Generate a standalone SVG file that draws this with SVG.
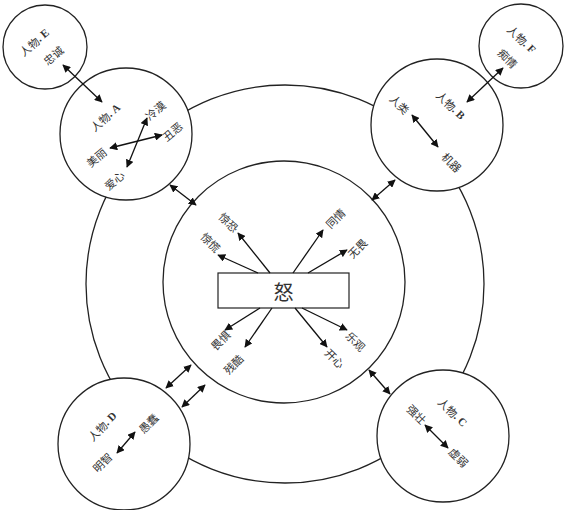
<svg xmlns="http://www.w3.org/2000/svg" width="566" height="510" viewBox="0 0 566 510">
<defs>
<style>
.c{fill:#fff;stroke:#222;stroke-width:1.3}
.r{fill:none;stroke:#222;stroke-width:1.3}
.l{stroke:#111;stroke-width:1.3;fill:none}
.d{marker-start:url(#ah);marker-end:url(#ah)}
.s{marker-end:url(#ah)}
text{font-family:"Noto Sans CJK SC","Liberation Serif",serif;font-size:11px;fill:#333;text-anchor:middle;dominant-baseline:central}
.b{font-family:"Liberation Serif","Noto Sans CJK SC",serif;font-weight:bold}
</style>
<marker id="ah" viewBox="0 0 10 10" refX="9" refY="5" markerWidth="8" markerHeight="8" markerUnits="userSpaceOnUse" orient="auto-start-reverse">
<path d="M0,0 L10,5 L0,10 z" fill="#111"/>
</marker>
</defs>
<rect width="566" height="510" fill="#fff"/>
<g id="outer"><circle class="r" cx="285" cy="284" r="199"/></g>
<g id="inner"><circle class="c" cx="284" cy="282" r="121"/></g>
<g id="center">
<rect x="218" y="273" width="131" height="35" fill="#fff" stroke="#222" stroke-width="1.2"/>
<text x="283.5" y="291" style="font-size:20px">怒</text>
</g>
<g id="nodeA">
<circle class="c" cx="126" cy="134" r="66"/>
<text transform="translate(105,117) rotate(-40)">人物<tspan class="b">. A</tspan></text>
<text transform="translate(155,110) rotate(-40)">冷漠</text>
<text transform="translate(172,131) rotate(-40)">丑恶</text>
<text transform="translate(96,157) rotate(-40)">美丽</text>
<text transform="translate(114,180) rotate(-40)">爱心</text>
</g>
<g id="nodeE">
<circle class="c" cx="45" cy="47" r="42"/>
<text transform="translate(34,42) rotate(-40)">人物<tspan class="b">. E</tspan></text>
<text transform="translate(53,55) rotate(-40)">忠诚</text>
</g>
<g id="nodeB">
<circle class="c" cx="437" cy="125" r="66"/>
<text transform="translate(451,105) rotate(45)">人物<tspan class="b">. B</tspan></text>
<text transform="translate(400,104) rotate(45)">人类</text>
<text transform="translate(452,162) rotate(45)">机器</text>
</g>
<g id="nodeF">
<circle class="c" cx="521" cy="46" r="42"/>
<text transform="translate(522,39) rotate(45)">人物<tspan class="b">. F</tspan></text>
<text transform="translate(508,58) rotate(45)">痴情</text>
</g>
<g id="nodeD">
<circle class="c" cx="124" cy="444" r="66"/>
<text transform="translate(102,426) rotate(-45)">人物<tspan class="b">. D</tspan></text>
<text transform="translate(102,462) rotate(-45)">明智</text>
<text transform="translate(148,423) rotate(-45)">愚蠢</text>
</g>
<g id="nodeC">
<circle class="c" cx="443" cy="436" r="66"/>
<text transform="translate(453,412) rotate(45)">人物<tspan class="b">. C</tspan></text>
<text transform="translate(417,414) rotate(45)">强壮</text>
<text transform="translate(459,457) rotate(45)">虚弱</text>
</g>
<g id="emotions">
<text transform="translate(229,222) rotate(45)">惊恐</text>
<text transform="translate(211,242) rotate(45)">惊慌</text>
<text transform="translate(335,218) rotate(-45)">同情</text>
<text transform="translate(357,248) rotate(-45)">无畏</text>
<text transform="translate(220,340) rotate(-45)">畏惧</text>
<text transform="translate(233,364) rotate(-45)">残酷</text>
<text transform="translate(356,341) rotate(45)">乐观</text>
<text transform="translate(335,358) rotate(45)">开心</text>
</g>
<g id="connectors">
<line class="l d" x1="63" y1="65" x2="102" y2="102"/>
<line class="l d" x1="110" y1="148" x2="162" y2="135"/>
<line class="l d" x1="127" y1="167" x2="147" y2="118"/>
<line class="l d" x1="170" y1="185" x2="196" y2="205"/>
<line class="l d" x1="503" y1="68" x2="467" y2="102"/>
<line class="l d" x1="412" y1="115" x2="438" y2="147"/>
<line class="l d" x1="372" y1="200" x2="395" y2="180"/>
<line class="l d" x1="369" y1="370" x2="390" y2="394"/>
<line class="l d" x1="425" y1="425" x2="448" y2="448"/>
<line class="l d" x1="166" y1="388" x2="191" y2="365"/>
<line class="l d" x1="182" y1="407" x2="205" y2="385"/>
<line class="l d" x1="117" y1="453" x2="135" y2="432"/>
<line class="l s" x1="270" y1="273" x2="238" y2="233"/>
<line class="l s" x1="258" y1="273" x2="218" y2="255"/>
<line class="l s" x1="293" y1="273" x2="323" y2="230"/>
<line class="l s" x1="308" y1="273" x2="347" y2="250"/>
<line class="l s" x1="260" y1="308" x2="225" y2="330"/>
<line class="l s" x1="272" y1="308" x2="245" y2="347"/>
<line class="l s" x1="302" y1="308" x2="347" y2="330"/>
<line class="l s" x1="295" y1="308" x2="327" y2="347"/>
</g>
</svg>
